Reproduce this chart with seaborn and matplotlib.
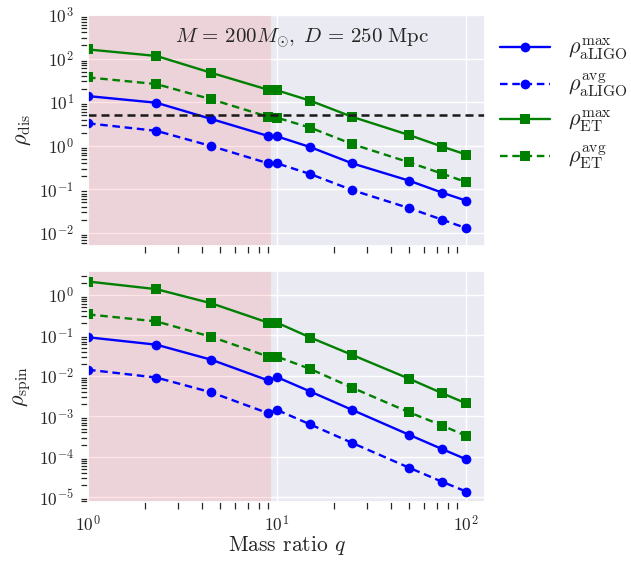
import numpy as np
import matplotlib
matplotlib.use("Agg")
import matplotlib.pyplot as plt
from matplotlib.ticker import LogLocator, NullFormatter
import seaborn as sns

# Mass ratios of the simulated binaries
q = [1, 2.3, 4.5, 9, 10, 15, 25, 50, 75, 100]

# Distinguishability SNR
rho_dis_aligo_max = [13.8, 9.7, 4.1, 1.67, 1.64, 0.93, 0.394, 0.158, 0.0835, 0.055]
rho_dis_aligo_avg = [3.27, 2.2, 0.98, 0.394, 0.394, 0.224, 0.096, 0.037, 0.020, 0.0129]
rho_dis_et_max = [162, 115, 47, 19.2, 18.7, 10.8, 4.6, 1.76, 0.95, 0.63]
rho_dis_et_avg = [37, 26, 11.6, 4.6, 4.4, 2.6, 1.09, 0.416, 0.228, 0.147]

# Spin SNR
rho_spin_aligo_max = [0.090, 0.059, 0.025, 0.0077, 0.0093, 0.0041, 0.00144, 0.00035, 0.000154, 0.0000871]
rho_spin_aligo_avg = [0.0142, 0.0091, 0.0039, 0.00119, 0.00144, 0.00063, 0.00022, 0.0000537, 0.000024, 0.0000139]
rho_spin_et_max = [2.15, 1.39, 0.62, 0.206, 0.206, 0.0887, 0.0329, 0.0085, 0.0037, 0.0021]
rho_spin_et_avg = [0.331, 0.222, 0.092, 0.0299, 0.0299, 0.0148, 0.0051, 0.00126, 0.00059, 0.00033]

rho_threshold = 5.0
q_shade = (1.0, 9.3)

labels = [r"$\rho_{\mathrm{aLIGO}}^{\mathrm{max}}$", r"$\rho_{\mathrm{aLIGO}}^{\mathrm{avg}}$",
          r"$\rho_{\mathrm{ET}}^{\mathrm{max}}$", r"$\rho_{\mathrm{ET}}^{\mathrm{avg}}$"]

sns.set_theme(style="darkgrid")
plt.rcParams.update({
    "font.family": "serif",
    "font.serif": ["cmr10"],
    "mathtext.fontset": "cm",
    "axes.formatter.use_mathtext": True,
    "axes.unicode_minus": False,
    # only minor ticks are drawn as marks; majors carry the labels
    "xtick.bottom": True,
    "ytick.left": True,
    "xtick.major.size": 0,
    "ytick.major.size": 0,
    "xtick.minor.bottom": True,
    "ytick.minor.left": True,
    "xtick.minor.size": 4.8,
    "ytick.minor.size": 4.8,
    "xtick.minor.width": 0.9,
    "ytick.minor.width": 0.9,
    "xtick.color": "0.15",
    "ytick.color": "0.15",
    "xtick.major.pad": 9,
    "ytick.major.pad": 10,
})

fig = plt.figure(figsize=(6.31, 5.64), dpi=100)
W, H = 631, 564
ax1 = fig.add_axes([88 / W, (H - 246) / H, 397 / W, 231 / H])
ax2 = fig.add_axes([88 / W, (H - 502) / H, 397 / W, 231 / H], sharex=ax1)

dash = (0, (3.2, 2.0))
blue, green = "#0000ff", "#008000"
styles = [
    dict(color=blue, marker="o", linestyle="-", markersize=7),
    dict(color=blue, marker="o", linestyle=dash, markersize=7),
    dict(color=green, marker="s", linestyle="-", markersize=7),
    dict(color=green, marker="s", linestyle=dash, markersize=7),
]

for ax, series in [(ax1, [rho_dis_aligo_max, rho_dis_aligo_avg, rho_dis_et_max, rho_dis_et_avg]),
                   (ax2, [rho_spin_aligo_max, rho_spin_aligo_avg, rho_spin_et_max, rho_spin_et_avg])]:
    ax.set_xscale("log")
    ax.set_yscale("log")
    for vals, st, lab in zip(series, styles, labels):
        sns.lineplot(x=q, y=vals, ax=ax, label=lab, linewidth=1.7,
                     markeredgewidth=0, **st)
    ax.axvspan(*q_shade, color="red", alpha=0.1, lw=0)
    for axis in (ax.xaxis, ax.yaxis):
        axis.set_minor_locator(LogLocator(base=10, subs=np.arange(2, 10), numticks=100))
        axis.set_minor_formatter(NullFormatter())
    ax.tick_params(axis="both", which="major", labelsize=12.5, length=0)
    ax.tick_params(axis="both", which="minor", left=True, bottom=True,
                   length=4.8, width=0.9, color="0.15")
    ax.get_legend().remove()

ax1.axhline(rho_threshold, color="k", linestyle=dash, linewidth=1.8)
ax1.set_ylim(10 ** -2.3, 1e3)
ax1.set_xlim(1, 10 ** 2.1)
ax1.tick_params(axis="x", labelbottom=False)

ax1.set_ylabel(r"$\rho_{\mathrm{dis}}$", fontsize=16)
ax2.set_ylabel(r"$\rho_{\mathrm{spin}}$", fontsize=16)
ax2.set_xlabel(r"Mass ratio $q$", fontsize=15.5, labelpad=-1)

ax1.text(0.54, 0.898, r"$M\,=\,200M_{\odot},\;D\,=\,250\ \mathrm{Mpc}$", transform=ax1.transAxes,
         ha="center", va="center", fontsize=15)

handles, _ = ax1.get_legend_handles_labels()
handles = [h for h in handles if h.get_label() in labels]
fig.legend(handles, labels, loc="upper left", bbox_to_anchor=(480 / W, 1 - 17 / H),
           frameon=False, fontsize=16, handlelength=2.25, handletextpad=0.8,
           labelspacing=0.45)

fig.savefig("out.png", dpi=100)
